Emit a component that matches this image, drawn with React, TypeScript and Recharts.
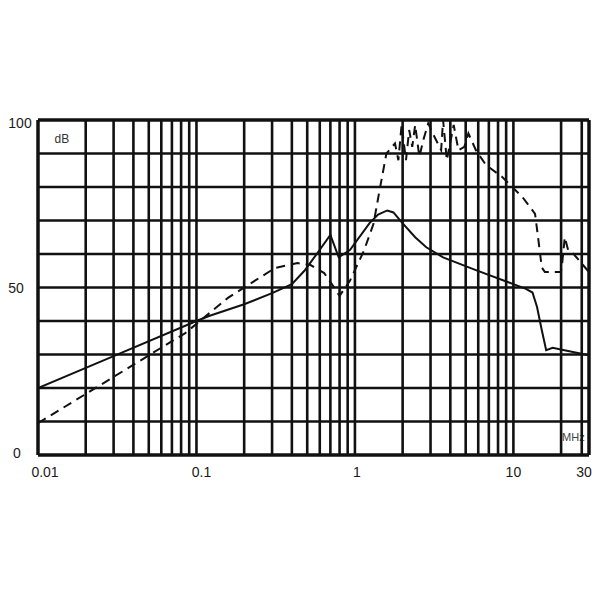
import React from "react";
import { LineChart, Line, XAxis, YAxis, ReferenceLine, ReferenceArea } from "recharts";

// Solid curve (frequency MHz, level dB)
const solidFreq = [0.01, 0.03, 0.1, 0.12, 0.2, 0.3, 0.4, 0.48, 0.58, 0.7, 0.79, 0.93, 1.24, 1.4, 1.6, 1.75, 1.97, 2.4, 2.82, 3.6, 5.8, 10, 12, 13.2, 14.1, 15.1, 16.1, 17.7, 21, 30];
const solidDb = [20, 29.5, 40, 41.5, 45, 48.3, 51, 55, 60.3, 65.7, 59, 61.2, 69.3, 71.8, 73, 72.4, 69.5, 65, 62, 59, 55.2, 51, 49.6, 48.5, 44.2, 37.3, 31.3, 32, 31.3, 29.8];

// Dashed curve (frequency MHz, level dB)
const dashedFreq = [0.01, 0.085, 0.158, 0.312, 0.434, 0.525, 0.64, 0.74, 0.8, 0.93, 1.14, 1.31, 1.43, 1.58, 1.79, 1.88, 1.97, 2.1, 2.2, 2.3, 2.4, 2.55, 2.7, 2.9, 3.1, 3.5, 3.6, 3.8, 4.2, 4.5, 4.9, 5.2, 5.8, 6.7, 8.5, 11.4, 13.7, 14.4, 15.1, 15.8, 19.9, 20.2, 21.1, 22.2, 24, 30];
const dashedDb = [9.5, 36.4, 46.9, 55.8, 57.3, 56.7, 54.3, 50, 47.5, 52, 61, 69, 79, 90, 93, 88, 98.5, 88, 97, 92, 98.5, 89, 94, 99, 96, 91, 100, 88, 98.5, 91, 92, 96, 91, 86.6, 83, 77, 72, 64, 56, 54.6, 54.6, 56, 65, 61, 60, 54.6];

// Axis ticks and grid
const xTicks = [0.01, 0.1, 1, 10, 30];
const yTicks = [0, 50, 100];
const xGrid = [0.02, 0.03, 0.04, 0.05, 0.06, 0.07, 0.08, 0.09, 0.1, 0.2, 0.3, 0.4, 0.5, 0.6, 0.7, 0.8, 0.9, 1, 2, 3, 4, 5, 6, 7, 8, 9, 10, 20, 27];
const yGrid = [10, 20, 30, 40, 50, 60, 70, 80, 90];
const xBorder = [0.01, 30];
const yBorder = [0, 100];

const solidData = solidFreq.map((f, i) => ({ f, db: solidDb[i] }));
const dashedData = dashedFreq.map((f, i) => ({ f, db: dashedDb[i] }));

const INK = "#111";
const FONT = "'Liberation Sans', Arial, sans-serif";

const xShift: Record<string, number> = { "0.01": 7, "0.1": 5, "1": 2, "10": 0, "30": -5 };
const yShift: Record<string, number> = { "0": 3, "50": 5, "100": 8 };
const yCenter: Record<string, number> = { "0": 9, "50": 8, "100": 12 };

const XTick = (props: any) => {
  const { x, y, payload } = props;
  const s = xShift[String(payload.value)] ?? 0;
  return (
    <text x={x + s} y={y + 22} textAnchor="middle" fontSize={14} fill="#1a1a1a" fontFamily={FONT}>
      {payload.value}
    </text>
  );
};

const YTick = (props: any) => {
  const { y, payload } = props;
  const s = yShift[String(payload.value)] ?? 5;
  const cx = yCenter[String(payload.value)] ?? 9;
  return (
    <text x={cx} y={y + s} textAnchor="middle" fontSize={14} fill="#1a1a1a" fontFamily={FONT}>
      {payload.value}
    </text>
  );
};

const MhzLabel = (props: any) => {
  const vb = props.viewBox || {};
  const cx = vb.x + vb.width / 2 + 2;
  const cy = vb.y + vb.height / 2 - 1;
  return (
    <g>
      <rect x={cx - 11} y={cy - 6} width={22} height={12} fill="#fff" />
      <text x={cx} y={cy + 4} textAnchor="middle" fontSize={11} fill="#444" fontFamily={FONT}>
        MHz
      </text>
    </g>
  );
};

export default function App() {
  return (
    <div style={{ width: 600, height: 600, fontFamily: FONT }}>
      <LineChart width={600} height={600} margin={{ top: 112, right: 19, bottom: 123, left: 0 }}>
        <XAxis
          type="number"
          dataKey="f"
          scale="log"
          domain={[0.01, 30]}
          ticks={xTicks}
          allowDataOverflow
          axisLine={false}
          tickLine={false}
          tickSize={0}
          tickMargin={0}
          height={30}
          tick={<XTick />}
          interval={0}
        />
        <YAxis
          type="number"
          domain={[0, 100]}
          ticks={yTicks}
          axisLine={false}
          tickLine={false}
          tickSize={0}
          tickMargin={0}
          width={30}
          tick={<YTick />}
          interval={0}
        />
        {xGrid.map((v) => (
          <ReferenceLine key={"vx" + v} x={v} stroke={INK} strokeWidth={2.6} />
        ))}
        {yGrid.map((v) => (
          <ReferenceLine key={"hy" + v} y={v} stroke={INK} strokeWidth={2.6} />
        ))}
        {xBorder.map((v) => (
          <ReferenceLine key={"bx" + v} x={v} stroke={INK} strokeWidth={3.5} />
        ))}
        {yBorder.map((v) => (
          <ReferenceLine key={"by" + v} y={v} stroke={INK} strokeWidth={3.5} />
        ))}
        <ReferenceArea
          x1={0.01}
          x2={0.02}
          y1={90}
          y2={100}
          fill="none"
          fillOpacity={0}
          stroke="none"
          label={{ value: "dB", position: "center", fontSize: 12, fill: "#333", fontFamily: FONT, dy: 2 }}
        />
        <ReferenceArea
          x1={20}
          x2={27}
          y1={0}
          y2={10}
          fill="none"
          fillOpacity={0}
          stroke="none"
          label={(p: any) => <MhzLabel {...p} />}
        />
        <Line
          data={solidData}
          dataKey="db"
          type="linear"
          stroke={INK}
          strokeWidth={2}
          dot={false}
          activeDot={false}
          isAnimationActive={false}
        />
        <Line
          data={dashedData}
          dataKey="db"
          type="linear"
          stroke={INK}
          strokeWidth={2}
          strokeDasharray="9 6"
          dot={false}
          activeDot={false}
          isAnimationActive={false}
        />
      </LineChart>
    </div>
  );
}
